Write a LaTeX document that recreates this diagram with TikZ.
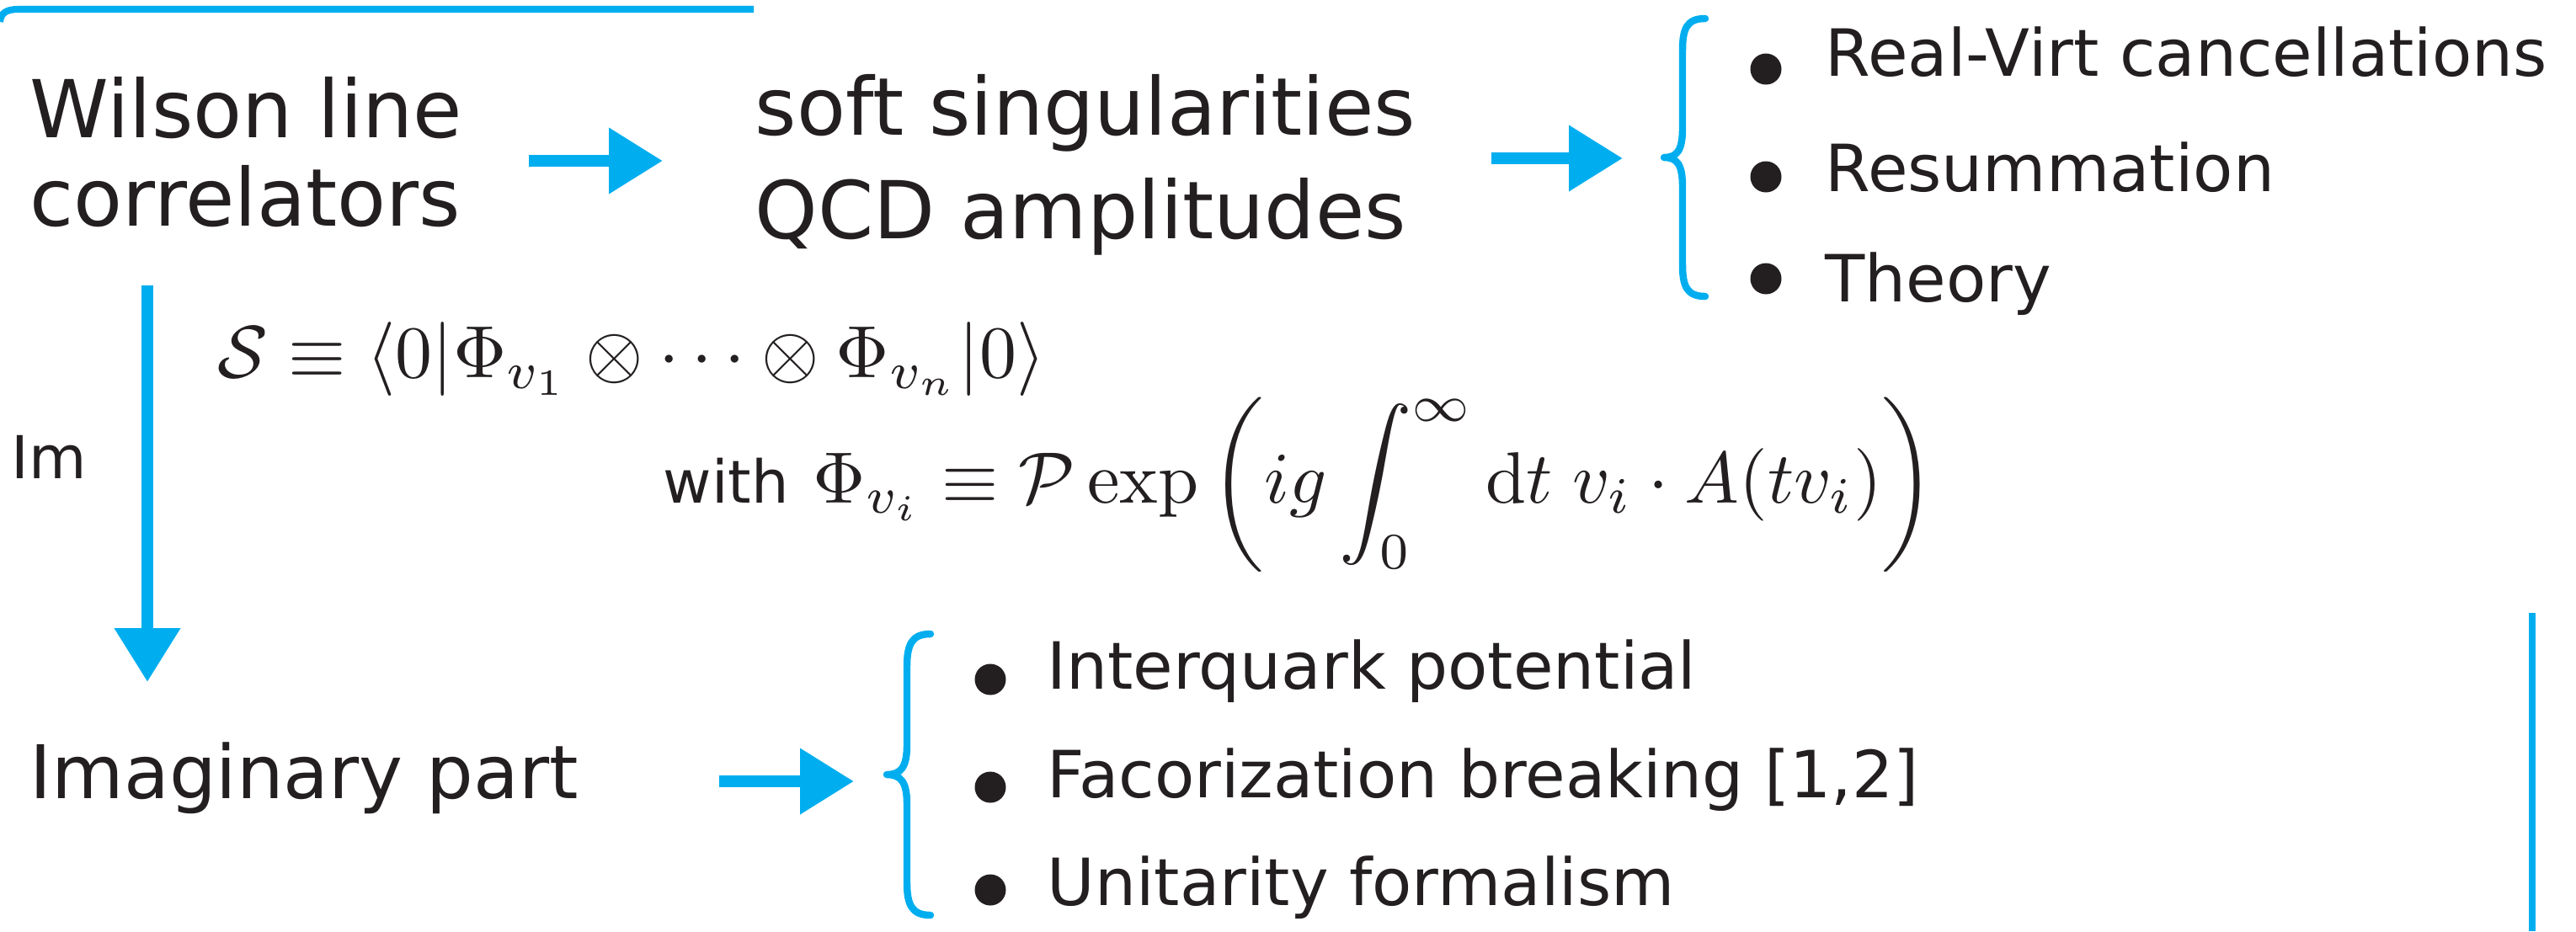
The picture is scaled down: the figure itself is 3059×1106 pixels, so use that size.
\documentclass[tikz,border=0pt]{standalone}
\usepackage{amsmath}
\usepackage{fontspec}
\newfontfamily\hand{DejaVu Sans}
\usetikzlibrary{arrows.meta}
\definecolor{cy}{HTML}{00AEEF}
\definecolor{ink}{HTML}{231F20}
\tikzset{
  big/.style={anchor=base west, inner sep=0pt, text=ink, font=\hand\fontsize{27}{32}\selectfont},
  mid/.style={anchor=base west, inner sep=0pt, text=ink, font=\hand\fontsize{25}{30}\selectfont},
  item/.style={anchor=base west, inner sep=0pt, text=ink, font=\hand\fontsize{22}{26}\selectfont},
  small/.style={anchor=base west, inner sep=0pt, text=ink, font=\hand\fontsize{20}{24}\selectfont},
  mathA/.style={anchor=base west, inner sep=0pt, text=ink, scale=2.5},
  mathB/.style={anchor=base west, inner sep=0pt, text=ink, scale=2.46},
  bul/.style={circle, fill=ink, inner sep=0pt, minimum size=3.7mm},
  fat/.style={draw=cy, line width=4.1pt, -{Triangle[length=18.2pt, width=21.3pt]}, color=cy},
  brc/.style={draw=cy, line width=2.4pt, line cap=round, line join=round},
  rule/.style={draw=cy, line width=2.3pt}
}
\begin{document}
\begin{tikzpicture}[x=0.1mm,y=-0.1mm]
\useasboundingbox (0,0) rectangle (3059,1106);
% top-left rule
\draw[rule] (0,26) .. controls (1,15) and (8,11) .. (22,11) -- (895,11);
% right rule
\draw[rule] (3007,728) -- (3007,1106);

% top row
\node[big] (wl1) at (35,163) {Wilson line};
\node[big] (wl2) at (35,268) {correlators};
\node[big] (ss1) at (896,160) {soft singularities};
\node[big] (ss2) at (896,283) {QCD amplitudes};

\coordinate (a1s) at (628,191);
\coordinate (a1e) at (787,191);
\draw[fat] (a1s) -- (a1e);
\coordinate (a2s) at (1771,188);
\coordinate (a2e) at (1927,188);
\draw[fat] (a2s) -- (a2e);

% brace 1
\draw[brc] (2025,22) .. controls (2003,22) and (1998,34) .. (1998,60) -- (1998,152)
  .. controls (1998,178) and (1992,187) .. (1976,187)
  .. controls (1992,187) and (1998,196) .. (1998,222) -- (1998,314)
  .. controls (1998,340) and (2003,352) .. (2025,352);

\node[bul] (b1) at (2097,82) {};
\node[bul] (b2) at (2097,210) {};
\node[bul] (b3) at (2097,331) {};
\node[item] (t1) at (2167,90) {Real-Virt cancellations};
\node[item] (t2) at (2167,227) {Resummation};
\node[item] (t3) at (2167,358) {Theory};

% vertical arrow
\coordinate (vs) at (175,339);
\coordinate (ve) at (175,810);
\draw[fat] (vs) -- (ve);
\node[small] (im) at (13,568) {Im};

% formulas
\node[mathA] (f1) at (257,448) {$\mathcal{S}\equiv\langle 0|\Phi_{v_1}\otimes\cdots\otimes\Phi_{v_n}|0\rangle$};
\node[small] (with) at (787,597) {with};
\node[mathB] (f2) at (964,597) {$\displaystyle \Phi_{v_i}\equiv\mathcal{P}\exp\left(ig\int_0^\infty \mathrm{d}t\; v_i\cdot A(tv_i)\right)$};

% bottom row
\node[mid] (ip) at (35,948) {Imaginary part};
\coordinate (a3s) at (854,928);
\coordinate (a3e) at (1014,928);
\draw[fat] (a3s) -- (a3e);

% brace 2
\draw[brc] (1105,753) .. controls (1083,753) and (1077,765) .. (1077,792) -- (1077,885)
  .. controls (1077,911) and (1070,920) .. (1053,920)
  .. controls (1070,920) and (1077,929) .. (1077,955) -- (1077,1048)
  .. controls (1077,1075) and (1083,1087) .. (1105,1087);

\node[bul] (c1) at (1176,807) {};
\node[bul] (c2) at (1176,935) {};
\node[bul] (c3) at (1176,1057) {};
\node[item] (u1) at (1243,818) {Interquark potential};
\node[item] (u2) at (1243,947) {Facorization breaking [1,2]};
\node[item] (u3) at (1243,1075) {Unitarity formalism};
\end{tikzpicture}
\end{document}
